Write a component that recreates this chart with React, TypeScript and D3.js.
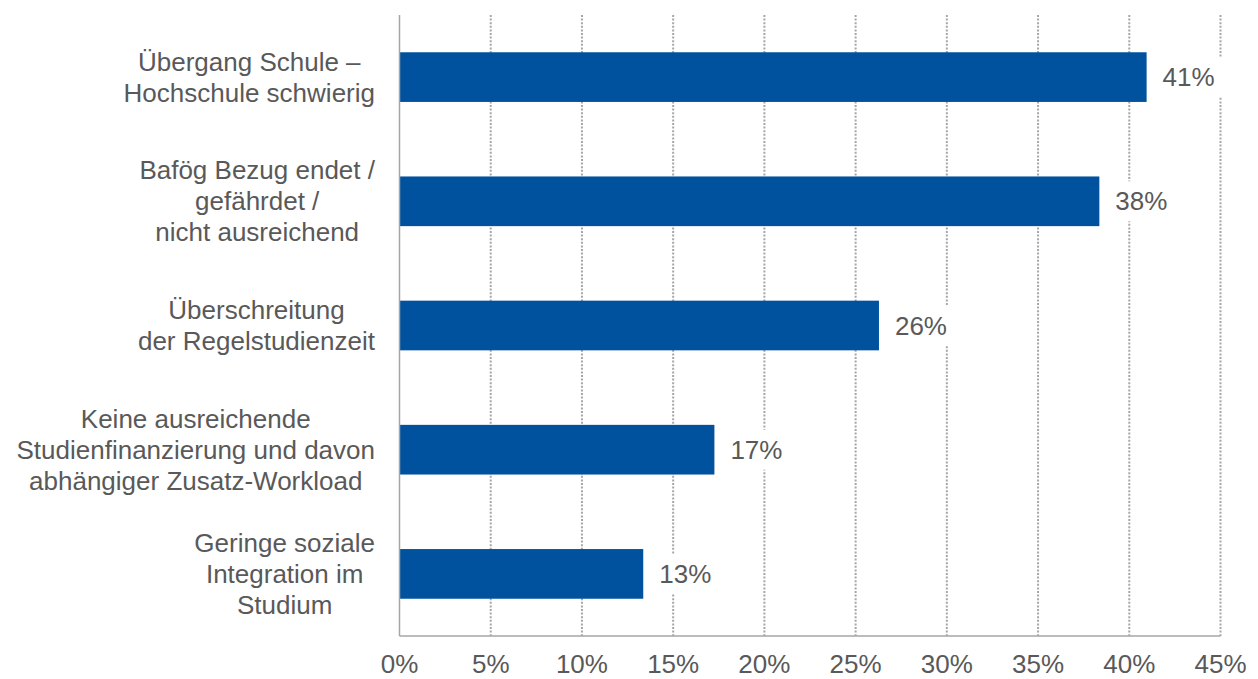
import React, { useEffect, useRef } from "react";
import * as d3 from "d3";

const categories: string[][] = [
  ["Übergang Schule –", "Hochschule schwierig"],
  ["Bafög Bezug endet /", "gefährdet /", "nicht ausreichend"],
  ["Überschreitung", "der Regelstudienzeit"],
  ["Keine ausreichende", "Studienfinanzierung und davon", "abhängiger Zusatz-Workload"],
  ["Geringe soziale", "Integration im", "Studium"],
];
const values: number[] = [40.95, 38.36, 26.28, 17.26, 13.36];
const xTicks: number[] = [0, 5, 10, 15, 20, 25, 30, 35, 40, 45];

const W = 1258;
const H = 679;
const left = 399.5;
const right = 1220.5;
const top = 15;
const bottom = 636;
const FONT = "'Liberation Sans', Arial, sans-serif";
const TEXT = "#595959";
const BAR = "#00529F";
const GRID = "#A6A6A6";

export default function App() {
  const ref = useRef<SVGSVGElement>(null);

  useEffect(() => {
    const svg = d3.select(ref.current);
    svg.selectAll("*").remove();

    const x = d3.scaleLinear().domain([0, 45]).range([left, right]);
    const idx = categories.map((_, i) => String(i));
    const y = d3.scaleBand<string>().domain(idx).range([top, bottom]).paddingInner(0.6).paddingOuter(0.3);

    // gridlines
    svg.append("g")
      .selectAll("line")
      .data(xTicks.filter((t) => t > 0))
      .join("line")
      .attr("x1", (d) => x(d))
      .attr("x2", (d) => x(d))
      .attr("y1", top)
      .attr("y2", bottom)
      .attr("stroke", GRID)
      .attr("stroke-width", 2)
      .attr("stroke-dasharray", "2,1.6");

    // bars
    svg.append("g")
      .selectAll("rect")
      .data(values)
      .join("rect")
      .attr("x", x(0))
      .attr("y", (_, i) => y(String(i))!)
      .attr("width", (d) => x(d) - x(0))
      .attr("height", y.bandwidth())
      .attr("fill", BAR);

    // axes lines
    svg.append("line")
      .attr("x1", left).attr("x2", left).attr("y1", top).attr("y2", bottom)
      .attr("stroke", GRID).attr("stroke-width", 1.5);
    svg.append("line")
      .attr("x1", left).attr("x2", right).attr("y1", bottom).attr("y2", bottom)
      .attr("stroke", GRID).attr("stroke-width", 1.5);

    // value labels with white background
    const vl = svg.append("g").selectAll("g").data(values).join("g");
    vl.each(function (d, i) {
      const g = d3.select(this);
      const cy = y(String(i))! + y.bandwidth() / 2;
      const tx = x(d) + 16;
      const t = g.append("text")
        .attr("x", tx)
        .attr("y", cy)
        .attr("dy", "0.35em")
        .attr("font-family", FONT)
        .attr("font-size", 26)
        .attr("fill", TEXT)
        .text(`${Math.round(d)}%`);
      const w = (t.node() as SVGTextElement).getComputedTextLength();
      g.insert("rect", "text")
        .attr("x", tx - 8)
        .attr("y", cy - 20)
        .attr("width", w + 16)
        .attr("height", 40)
        .attr("fill", "#fff");
    });

    // x tick labels
    svg.append("g")
      .selectAll("text")
      .data(xTicks)
      .join("text")
      .attr("x", (d) => x(d))
      .attr("y", 673)
      .attr("text-anchor", "middle")
      .attr("font-family", FONT)
      .attr("font-size", 26)
      .attr("fill", TEXT)
      .text((d) => `${d}%`);

    // category labels: lines centered within block, block right-aligned
    const labelRight = 375;
    const lh = 31;
    categories.forEach((lines, i) => {
      const cy = y(String(i))! + y.bandwidth() / 2;
      const g = svg.append("g");
      const texts = lines.map((line, j) =>
        g.append("text")
          .attr("y", cy + (j - (lines.length - 1) / 2) * lh)
          .attr("dy", "0.35em")
          .attr("text-anchor", "middle")
          .attr("font-family", FONT)
          .attr("font-size", 26)
          .attr("fill", TEXT)
          .text(line)
      );
      const maxW = d3.max(texts, (t) => (t.node() as SVGTextElement).getComputedTextLength()) || 0;
      texts.forEach((t) => t.attr("x", labelRight - maxW / 2));
    });
  }, []);

  return (
    <svg ref={ref} width={W} height={H} style={{ position: "absolute", left: 0, top: 0, background: "#fff" }} />
  );
}
